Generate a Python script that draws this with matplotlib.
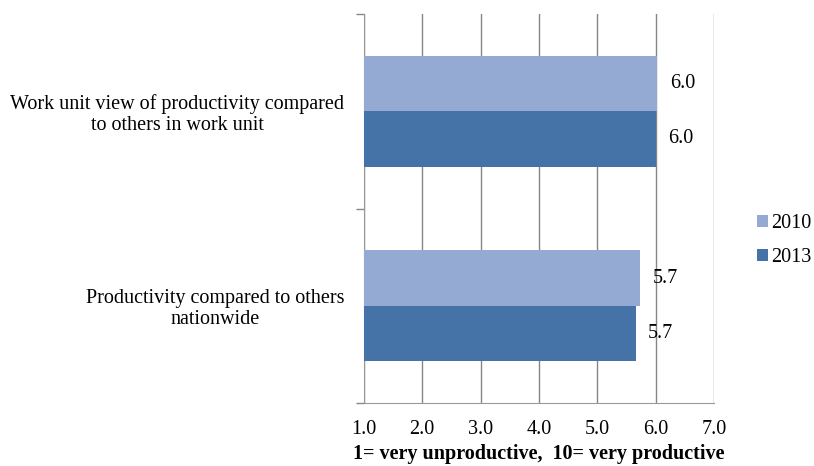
import numpy as np
import matplotlib
matplotlib.use("Agg")
import matplotlib.pyplot as plt

categories = [
    "Work unit view of productivity compared\nto others in work unit",
    "Productivity compared to others\nnationwide",
]
years = ["2010", "2013"]
values_2010 = [6.03, 5.74]
values_2013 = [6.01, 5.66]
labels_2010 = ["6.0", "5.7"]
labels_2013 = ["6.0", "5.7"]
xticks = [1.0, 2.0, 3.0, 4.0, 5.0, 6.0, 7.0]

plt.rcParams["font.family"] = ["Liberation Serif", "DejaVu Serif"]
fs = 14.5

fig = plt.figure(figsize=(8.14, 4.66), dpi=100)
ax = fig.add_axes([0.447, 0.135, 0.43, 0.835])

y = np.arange(len(categories))
h = 0.285
c10 = "#94AAD2"
c13 = "#4573A7"

ax.barh(y - h / 2, values_2010, height=h, color=c10, label=years[0], zorder=3)
ax.barh(y + h / 2, values_2013, height=h, color=c13, label=years[1], zorder=3)

for yi, v, t in zip(y - h / 2, values_2010, labels_2010):
    ax.annotate(t, (v, yi), xytext=(9, 0), textcoords="offset points",
                va="center", ha="left", fontsize=fs)
for yi, v, t in zip(y + h / 2, values_2013, labels_2013):
    ax.annotate(t, (v, yi), xytext=(9, 0), textcoords="offset points",
                va="center", ha="left", fontsize=fs)

ax.set_xlim(1, 7)
ax.set_ylim(1.5, -0.5)
ax.set_xticks(xticks)
ax.set_xticklabels([f"{v:.1f}" for v in xticks], fontsize=fs)
ax.tick_params(axis="x", length=0, pad=12)

ax.set_yticks(y)
ax.set_yticklabels(categories, fontsize=fs, multialignment="center",
                   linespacing=1.1)
ax.tick_params(axis="y", which="major", length=0, pad=14)
ax.set_yticks([-0.5, 0.5, 1.5], minor=True)
ax.tick_params(axis="y", which="minor", length=6, color="#888888", width=1)

ax.grid(axis="x", color="#868686", linewidth=1, zorder=0)
for s in ["top", "right"]:
    ax.spines[s].set_visible(False)
ax.spines["left"].set_color("#999999")
ax.spines["bottom"].set_color("#999999")

ax.set_xlabel("1= very unproductive,  10= very productive", fontsize=fs,
              fontweight="bold", labelpad=4)

fig.legend(loc="center left", bbox_to_anchor=(0.930, 0.483), frameon=False,
           fontsize=fs, handlelength=0.55, handleheight=0.55,
           handletextpad=0.15, labelspacing=0.75, borderaxespad=0,
           borderpad=0)

fig.savefig("out.png", dpi=100)
